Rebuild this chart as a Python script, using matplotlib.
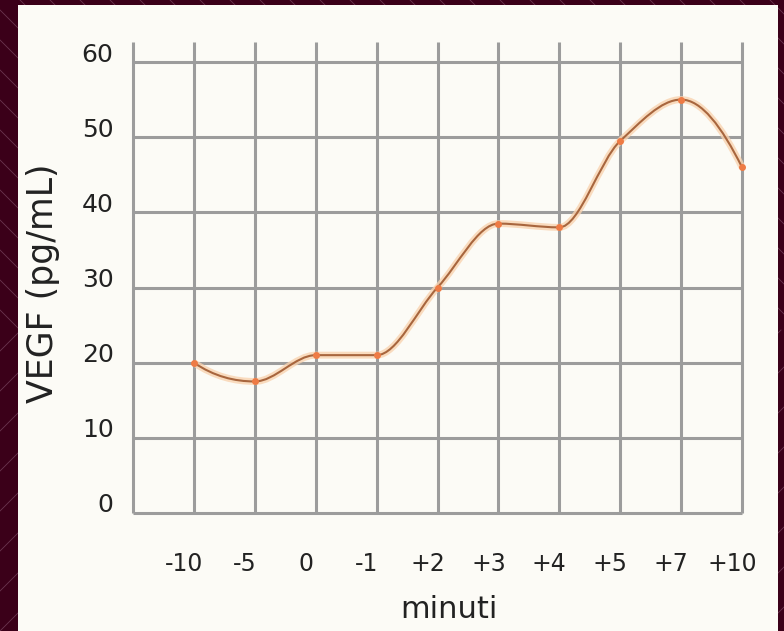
import numpy as np
import matplotlib
matplotlib.use("Agg")
import matplotlib.pyplot as plt
from matplotlib.path import Path
from matplotlib.patches import PathPatch, Rectangle
from matplotlib.lines import Line2D
from matplotlib.transforms import ScaledTranslation

# data
minutes = ["-10", "-5", "0", "-1", "+2", "+3", "+4", "+5", "+7", "+10"]
vegf = [20, 17.5, 21, 21, 30, 38.5, 38, 49.5, 55, 46]
y_ticks = [0, 10, 20, 30, 40, 50, 60]

W, H = 784, 631
fig = plt.figure(figsize=(W / 100, H / 100), dpi=100)
fig.patch.set_facecolor("#3b0019")

# diagonal pattern on the maroon border
for x0 in range(-340, W + 40, 30):
    fig.add_artist(Line2D([x0 / W, (x0 + 330) / W], [1, 1 - 330 / H],
                          color="#6b3550", lw=0.6, zorder=0))
for x0 in range(-320, W + 40, 40):
    fig.add_artist(Line2D([x0 / W, (x0 + 301) / W], [0, 301 / H],
                          color="#6b3550", lw=0.6, zorder=0))

# cream panel
fig.add_artist(Rectangle((18 / W, 0), 760 / W, (H - 5) / H,
                         transform=fig.transFigure, facecolor="#fcfbf6",
                         edgecolor="none", zorder=1))

ax = fig.add_axes([133 / W, 1 - 513 / H, (742 - 133) / W, (513 - 62) / H])
ax.set_zorder(2)
ax.patch.set_visible(False)
ax.set_xlim(0, 10)
ax.set_ylim(0, 60)
for s in ax.spines.values():
    s.set_visible(False)

# grid
xs = np.arange(len(minutes) + 1)
ax.vlines(xs, 0, 62.6, color="#9c9c9c", lw=2.2, clip_on=False, zorder=1)
ax.hlines(y_ticks, 0, 10, color="#9c9c9c", lw=2.2, clip_on=False, zorder=1)

# smooth curve (monotone cubic through the points)
px = np.arange(1, len(vegf) + 1, dtype=float)
py = np.array(vegf, dtype=float)
d = np.diff(py)
m = np.zeros_like(py)
for i in range(1, len(py) - 1):
    if d[i - 1] * d[i] > 0:
        m[i] = 2 / (1 / d[i - 1] + 1 / d[i])
m[0] = (3 * d[0] - d[1]) / 2
if m[0] * d[0] <= 0:
    m[0] = 0
m[-1] = (3 * d[-1] - d[-2]) / 2
if m[-1] * d[-1] <= 0:
    m[-1] = 0
verts = [(px[0], py[0])]
codes = [Path.MOVETO]
for i in range(len(px) - 1):
    verts += [(px[i] + 1 / 3, py[i] + m[i] / 3),
              (px[i + 1] - 1 / 3, py[i + 1] - m[i + 1] / 3),
              (px[i + 1], py[i + 1])]
    codes += [Path.CURVE4] * 3
path = Path(verts, codes)
ax.add_patch(PathPatch(path, fill=False, edgecolor="#f9d3b0", lw=5,
                       alpha=0.8, clip_on=False, zorder=3))
ax.add_patch(PathPatch(path, fill=False, edgecolor="#a8663e", lw=1.5,
                       clip_on=False, zorder=4))
ax.plot(px, py, "o", ms=4, color="#ee7b45", clip_on=False, zorder=5)

# ticks
ax.set_xticks(px)
ax.set_xticklabels(minutes, fontsize=17, color="#222222")
ax.set_yticks(y_ticks)
ax.set_yticklabels([str(v) for v in y_ticks], fontsize=18, color="#222222")
ax.tick_params(axis="x", length=0, pad=28)
ax.tick_params(axis="y", length=0, pad=14)
for lab in ax.get_xticklabels():
    lab.set_transform(lab.get_transform() +
                      ScaledTranslation(-10 / 100, 0, fig.dpi_scale_trans))
for lab in ax.get_yticklabels():
    lab.set_transform(lab.get_transform() +
                      ScaledTranslation(0, 10 / 100, fig.dpi_scale_trans))

fig.text(43 / W, 1 - 283 / H, "VEGF (pg/mL)", rotation=90, fontsize=25,
         ha="center", va="center", color="#222222", zorder=3)
fig.text(449 / W, 1 - 610 / H, "minuti", fontsize=22,
         ha="center", va="center", color="#222222", zorder=3)

fig.savefig("out.png", dpi=100, facecolor=fig.get_facecolor())
